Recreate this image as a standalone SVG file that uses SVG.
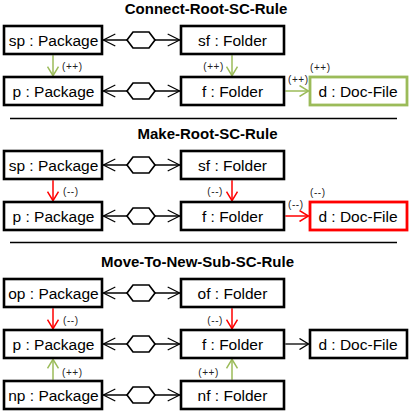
<svg xmlns="http://www.w3.org/2000/svg" width="415" height="415" viewBox="0 0 415 415">
<style>
.box{fill:#fff;stroke:#000;stroke-width:2.6}
.boxg{fill:#fff;stroke:#9BBB59;stroke-width:2.8}
.boxr{fill:#fff;stroke:#FF0000;stroke-width:2.8}
.t{font-family:"Liberation Sans",Arial,sans-serif;font-size:15.5px;fill:#000;text-anchor:middle}
.title{font-family:"Liberation Sans",Arial,sans-serif;font-size:15px;font-weight:bold;fill:#000;text-anchor:middle}
.lbl{font-family:"Liberation Sans",Arial,sans-serif;font-size:10px;fill:#222;letter-spacing:0.6px}
.e{text-anchor:end}
.assoc{stroke:#000;stroke-width:1.3;fill:none;marker-start:url(#ab);marker-end:url(#ab)}
.hex{fill:#fff;stroke:#000;stroke-width:1.7}
.g{stroke:#9BBB59;stroke-width:1.5;fill:none;marker-end:url(#ag)}
.r{stroke:#FF0000;stroke-width:1.5;fill:none;marker-end:url(#ar)}
.k{stroke:#000;stroke-width:1.3;fill:none;marker-end:url(#ak)}
.sep{stroke:#000;stroke-width:1.3}
</style>
<defs>
<marker id="ab" viewBox="0 0 13 14" refX="12.5" refY="7" markerWidth="13" markerHeight="14" markerUnits="userSpaceOnUse" orient="auto-start-reverse"><path d="M0.5,1 L12.5,7 L0.5,13" fill="none" stroke="#000" stroke-width="1.3"/></marker>
<marker id="ag" viewBox="0 0 10 12" refX="9.5" refY="6" markerWidth="10" markerHeight="12" markerUnits="userSpaceOnUse" orient="auto"><path d="M0.5,0.5 L9.5,6 L0.5,11.5" fill="none" stroke="#9BBB59" stroke-width="1.5"/></marker>
<marker id="ar" viewBox="0 0 10 12" refX="9.5" refY="6" markerWidth="10" markerHeight="12" markerUnits="userSpaceOnUse" orient="auto"><path d="M0.5,0.5 L9.5,6 L0.5,11.5" fill="none" stroke="#FF0000" stroke-width="1.5"/></marker>
<marker id="ak" viewBox="0 0 10 12" refX="9.5" refY="6" markerWidth="10" markerHeight="12" markerUnits="userSpaceOnUse" orient="auto"><path d="M0.5,0.5 L9.5,6 L0.5,11.5" fill="none" stroke="#000" stroke-width="1.3"/></marker>
</defs>

<text class="title" x="206" y="13.5">Connect-Root-SC-Rule</text>
<text class="title" x="207.5" y="138.5">Make-Root-SC-Rule</text>
<text class="title" x="197.5" y="266.5">Move-To-New-Sub-SC-Rule</text>
<line class="sep" x1="10" y1="118.5" x2="397" y2="118.5"/>
<line class="sep" x1="10" y1="242.5" x2="397" y2="242.5"/>

<g id="connectors">
<!-- panel 1 -->
<line class="assoc" x1="103.3" y1="40" x2="179.7" y2="40"/>
<polygon class="hex" points="127,40 133,32 149,32 155,40 149,48 133,48"/>
<line class="assoc" x1="103.3" y1="91" x2="179.7" y2="91"/>
<polygon class="hex" points="127,91 133,83 149,83 155,91 149,99 133,99"/>
<line class="g" x1="53" y1="55.3" x2="53" y2="75.7"/>
<line class="g" x1="232" y1="55.3" x2="232" y2="75.7"/>
<line class="g" x1="285.3" y1="91" x2="308.5" y2="91"/>
<!-- panel 2 -->
<line class="assoc" x1="103.3" y1="165" x2="179.7" y2="165"/>
<polygon class="hex" points="127,165 133,157 149,157 155,165 149,173 133,173"/>
<line class="assoc" x1="103.3" y1="216" x2="179.7" y2="216"/>
<polygon class="hex" points="127,216 133,208 149,208 155,216 149,224 133,224"/>
<line class="r" x1="53" y1="180.3" x2="53" y2="200.7"/>
<line class="r" x1="232" y1="180.3" x2="232" y2="200.7"/>
<line class="r" x1="285.3" y1="216" x2="308.5" y2="216"/>
<!-- panel 3 -->
<line class="assoc" x1="103.3" y1="293" x2="179.7" y2="293"/>
<polygon class="hex" points="127,293 133,285 149,285 155,293 149,301 133,301"/>
<line class="assoc" x1="103.3" y1="344" x2="179.7" y2="344"/>
<polygon class="hex" points="127,344 133,336 149,336 155,344 149,352 133,352"/>
<line class="assoc" x1="103.3" y1="395" x2="179.7" y2="395"/>
<polygon class="hex" points="127,395 133,387 149,387 155,395 149,403 133,403"/>
<line class="r" x1="53" y1="308.3" x2="53" y2="328.7"/>
<line class="r" x1="232" y1="308.3" x2="232" y2="328.7"/>
<line class="g" x1="53" y1="379.7" x2="53" y2="359.3"/>
<line class="g" x1="232" y1="379.7" x2="232" y2="359.3"/>
<line class="k" x1="285.3" y1="344" x2="308.5" y2="344"/>

<text class="lbl" x="62" y="70">(++)</text>
<text class="lbl e" x="224" y="70">(++)</text>
<text class="lbl" x="288" y="83">(++)</text>
<text class="lbl" x="310" y="71">(++)</text>
<text class="lbl" x="63" y="195">(--)</text>
<text class="lbl e" x="223" y="195">(--)</text>
<text class="lbl" x="288" y="208">(--)</text>
<text class="lbl" x="310" y="196">(--)</text>
<text class="lbl" x="63" y="324">(--)</text>
<text class="lbl e" x="223" y="324">(--)</text>
<text class="lbl" x="62" y="376">(++)</text>
<text class="lbl e" x="219" y="376">(++)</text>
</g>

<g id="p1-sp"><rect class="box" x="4" y="26" width="98" height="28"/><text class="t" x="53.5" y="45.5">sp : Package</text></g>
<g id="p1-sf"><rect class="box" x="181" y="26" width="103" height="28"/><text class="t" x="232.5" y="45.5">sf : Folder</text></g>
<g id="p1-p"><rect class="box" x="4" y="77" width="98" height="28"/><text class="t" x="53.5" y="96.5">p : Package</text></g>
<g id="p1-f"><rect class="box" x="181" y="77" width="103" height="28"/><text class="t" x="232.5" y="96.5">f : Folder</text></g>
<g id="p1-d"><rect class="boxg" x="310" y="77" width="97" height="28"/><text class="t" x="358" y="96.5">d : Doc-File</text></g>

<g id="p2-sp"><rect class="box" x="4" y="151" width="98" height="28"/><text class="t" x="53.5" y="170.5">sp : Package</text></g>
<g id="p2-sf"><rect class="box" x="181" y="151" width="103" height="28"/><text class="t" x="232.5" y="170.5">sf : Folder</text></g>
<g id="p2-p"><rect class="box" x="4" y="202" width="98" height="28"/><text class="t" x="53.5" y="221.5">p : Package</text></g>
<g id="p2-f"><rect class="box" x="181" y="202" width="103" height="28"/><text class="t" x="232.5" y="221.5">f : Folder</text></g>
<g id="p2-d"><rect class="boxr" x="310" y="202" width="97" height="28"/><text class="t" x="358" y="221.5">d : Doc-File</text></g>

<g id="p3-op"><rect class="box" x="4" y="279" width="98" height="28"/><text class="t" x="53.5" y="298.5">op : Package</text></g>
<g id="p3-of"><rect class="box" x="181" y="279" width="103" height="28"/><text class="t" x="232.5" y="298.5">of : Folder</text></g>
<g id="p3-p"><rect class="box" x="4" y="330" width="98" height="28"/><text class="t" x="53.5" y="349.5">p : Package</text></g>
<g id="p3-f"><rect class="box" x="181" y="330" width="103" height="28"/><text class="t" x="232.5" y="349.5">f : Folder</text></g>
<g id="p3-d"><rect class="box" x="310" y="330" width="97" height="28"/><text class="t" x="358" y="349.5">d : Doc-File</text></g>
<g id="p3-np"><rect class="box" x="4" y="381" width="98" height="28"/><text class="t" x="53.5" y="400.5">np : Package</text></g>
<g id="p3-nf"><rect class="box" x="181" y="381" width="103" height="28"/><text class="t" x="232.5" y="400.5">nf : Folder</text></g>
</svg>
